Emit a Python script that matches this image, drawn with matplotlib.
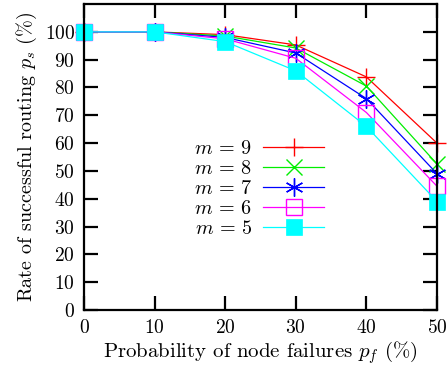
import matplotlib
matplotlib.use("Agg")
import matplotlib.pyplot as plt

plt.rcParams['font.family'] = 'serif'
plt.rcParams['font.serif'] = ['cmr10', 'DejaVu Serif']
plt.rcParams['mathtext.fontset'] = 'cm'
plt.rcParams['axes.formatter.use_mathtext'] = True

x = [0, 10, 20, 30, 40, 50]
m9 = [100, 100, 99.0, 95.3, 83.8, 60.0]
m8 = [100, 100, 98.5, 94.2, 80.5, 52.5]
m7 = [100, 100, 98.0, 92.4, 76.0, 49.0]
m6 = [100, 100, 97.5, 90.5, 71.0, 44.5]
m5 = [100, 100, 96.5, 86.0, 66.0, 39.0]
labels = ['$m\\,=\\,9$', '$m\\,=\\,8$', '$m\\,=\\,7$', '$m\\,=\\,6$', '$m\\,=\\,5$']
xticks = [0, 10, 20, 30, 40, 50]
yticks = [0, 10, 20, 30, 40, 50, 60, 70, 80, 90, 100]

fig = plt.figure(figsize=(4.48, 3.69), dpi=100)
ax = fig.add_axes([0.1875, 0.16, 0.7879, 0.829])

styles = [
    dict(color='#ff0000', marker='+', ms=13, mew=1.0),
    dict(color='#00ee00', marker='x', ms=12, mew=1.0),
    dict(color='#0000ff', marker=(6, 2, 0), ms=13, mew=1.0),
    dict(color='#ff00ff', marker='s', ms=11, mew=1.0, mfc='none'),
    dict(color='#00ffff', marker='s', ms=12, mew=0.5, mec='#00ffff'),
]
for ys, lab, st in zip([m9, m8, m7, m6, m5], labels, styles):
    ax.plot(x, ys, lw=0.9, label=lab, clip_on=False, **st)

ax.set_xlim(0, 50)
ax.set_ylim(0, 110)
ax.set_xticks(xticks)
ax.set_yticks(yticks)
ax.tick_params(direction='in', length=10, width=1.6, top=True, right=True, labelsize=14, pad=6.5)
for s in ax.spines.values():
    s.set_linewidth(1.6)
ax.set_xlabel('Probability of node failures $p_f$ (%)', fontsize=15, labelpad=1.5)
ax.set_ylabel('Rate of successful routing $p_s$ (%)', fontsize=14.5, labelpad=4)

leg = ax.legend(loc='center', bbox_to_anchor=(0.496, 0.395), frameon=False, markerfirst=False,
                fontsize=14.5, handlelength=3.05, labelspacing=0.1, handletextpad=0.55)

fig.savefig('out.png', dpi=100)
